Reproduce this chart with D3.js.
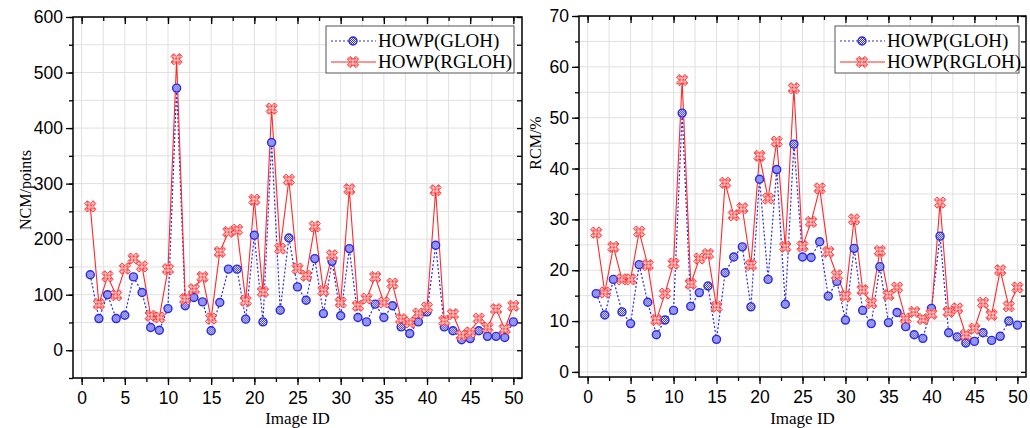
<!DOCTYPE html>
<html>
<head>
<meta charset="utf-8">
<style>
  body { margin: 0; background: #fff; }
  svg { display: block; font-family: "Liberation Serif", "Times New Roman", serif; }
  .grid line { stroke: #e0e0e0; stroke-width: 1; }
  .axis path, .axis line { stroke: #000; stroke-width: 1.3; }
  .axis text { font-size: 17.5px; fill: #000; }
  .frame { fill: none; stroke: #000; stroke-width: 1.5; }
  .title { font-size: 16px; fill: #000; }
  .legend text { font-size: 19px; fill: #000; }
</style>
</head>
<body>
<script src="https://cdn.jsdelivr.net/npm/d3@7/dist/d3.min.js"></script>
<script>
// image ids 1..50
var imageIds = d3.range(1, 51);
var xTicks = [0, 5, 10, 15, 20, 25, 30, 35, 40, 45, 50];
var seriesNames = ["HOWP(GLOH)", "HOWP(RGLOH)"];

// NCM (points)
var glohNCM = [136,57,100,57,63,132,104,41,36,75,472,80,95,87,35,86,146,146,56,207,
  51,374,72,202,114,90,165,66,160,62,183,59,51,83,59,80,42,30,51,69,
  189,42,35,19,21,35,25,25,23,51];
var rglohNCM = [259,83,133,99,147,165,151,62,59,146,524,92,110,132,57,177,213,217,89,271,
  105,435,183,307,147,134,223,107,171,86,290,80,93,132,86,120,56,50,66,77,
  288,53,65,27,32,57,41,74,38,80];
var ncmTicks = [0, 100, 200, 300, 400, 500, 600];

// RCM (%)
var glohRCM = [15.4,11.2,18.2,11.8,9.5,21.1,13.7,7.3,10.2,12.1,50.9,12.9,15.6,16.9,6.4,19.5,22.6,24.6,12.8,37.9,
  18.2,39.8,13.3,44.8,22.6,22.5,25.6,14.9,17.8,10.2,24.3,12.1,9.5,20.7,9.7,11.7,8.9,7.3,6.6,12.5,
  26.7,7.7,6.9,5.7,6.0,7.7,6.2,7.0,10.0,9.2];
var rglohRCM = [27.4,15.6,24.6,18.2,18.2,27.6,21.0,10.2,15.4,21.3,57.4,17.3,22.3,23.2,12.8,37.2,30.8,32.2,21.0,42.5,
  34.1,45.3,24.6,55.8,24.7,29.5,36.1,23.6,19.0,14.9,30.0,16.1,13.5,23.8,15.1,16.6,10.5,11.8,10.4,11.4,
  33.3,11.8,12.5,7.3,8.5,13.6,11.2,20.0,12.9,16.6];
var rcmTicks = [0, 10, 20, 30, 40, 50, 60, 70];

var blue = "#2a2ae6", red = "#ff2a2a";

var svg = d3.select("body").append("svg")
    .attr("width", 1030)
    .attr("height", 428);

// checkered fill patterns for the markers
var defs = svg.append("defs");
[["chkBlue", blue], ["chkRed", red]].forEach(function(p) {
  var pat = defs.append("pattern")
      .attr("id", p[0])
      .attr("width", 2).attr("height", 2)
      .attr("patternUnits", "userSpaceOnUse");
  pat.append("rect").attr("width", 2).attr("height", 2).attr("fill", "#fff");
  pat.append("rect").attr("width", 1).attr("height", 1).attr("fill", p[1]);
  pat.append("rect").attr("x", 1).attr("y", 1).attr("width", 1).attr("height", 1).attr("fill", p[1]);
});

var crossPath = d3.symbol().type(d3.symbolCross).size(80)();

function blueMarker(sel) {
  sel.append("circle").attr("r", 4)
    .attr("fill", "url(#chkBlue)")
    .attr("stroke", blue).attr("stroke-width", 1.4);
}
function redMarker(sel) {
  sel.append("path").attr("d", crossPath)
    .attr("transform", "rotate(45)")
    .attr("fill", "url(#chkRed)")
    .attr("stroke", red).attr("stroke-width", 0.8);
}

function drawPanel(o) {
  var x = d3.scaleLinear().domain([-1, 51]).range([o.left, o.right]);
  var y = d3.scaleLinear().domain(o.yDomain).range([o.bottom, o.top]);

  var minorX = d3.range(0, 51, 2.5);
  var minorY = d3.range(o.yDomain[0] < 0 ? -o.yStep / 2 : 0, o.yDomain[1] + 0.001, o.yStep / 2)
    .filter(function(v) { return v >= o.yDomain[0]; });

  // grid
  var grid = svg.append("g").attr("class", "grid");
  grid.selectAll(".gx").data(minorX).enter().append("line")
    .attr("x1", function(d) { return x(d); }).attr("x2", function(d) { return x(d); })
    .attr("y1", o.top).attr("y2", o.bottom);
  grid.selectAll(".gy").data(minorY).enter().append("line")
    .attr("y1", function(d) { return y(d); }).attr("y2", function(d) { return y(d); })
    .attr("x1", o.left).attr("x2", o.right);

  // bottom axis
  svg.append("g").attr("class", "axis")
    .attr("transform", "translate(0," + o.bottom + ")")
    .call(d3.axisBottom(x).tickValues(minorX).tickSize(4).tickFormat(""))
    .call(function(g) { g.select(".domain").remove(); });
  svg.append("g").attr("class", "axis")
    .attr("transform", "translate(0," + o.bottom + ")")
    .call(d3.axisBottom(x).tickValues(xTicks).tickSize(7).tickPadding(7).tickFormat(d3.format("d")))
    .call(function(g) { g.select(".domain").remove(); });
  // top ticks inward
  svg.append("g").attr("class", "axis")
    .attr("transform", "translate(0," + o.top + ")")
    .call(d3.axisBottom(x).tickValues(minorX).tickSize(4).tickFormat(""))
    .call(function(g) { g.select(".domain").remove(); });
  svg.append("g").attr("class", "axis")
    .attr("transform", "translate(0," + o.top + ")")
    .call(d3.axisBottom(x).tickValues(xTicks).tickSize(7).tickFormat(""))
    .call(function(g) { g.select(".domain").remove(); });

  // left axis
  svg.append("g").attr("class", "axis")
    .attr("transform", "translate(" + o.left + ",0)")
    .call(d3.axisLeft(y).tickValues(minorY).tickSize(4).tickFormat(""))
    .call(function(g) { g.select(".domain").remove(); });
  svg.append("g").attr("class", "axis")
    .attr("transform", "translate(" + o.left + ",0)")
    .call(d3.axisLeft(y).tickValues(o.yTicks).tickSize(7).tickPadding(3).tickFormat(d3.format("d")))
    .call(function(g) { g.select(".domain").remove(); });
  // right ticks inward
  svg.append("g").attr("class", "axis")
    .attr("transform", "translate(" + o.right + ",0)")
    .call(d3.axisRight(y).tickValues(minorY).tickSize(-5).tickFormat(""))
    .call(function(g) { g.select(".domain").remove(); });

  svg.append("rect").attr("class", "frame")
    .attr("x", o.left).attr("y", o.top)
    .attr("width", o.right - o.left).attr("height", o.bottom - o.top);

  // lines
  var line = function(vals) {
    return d3.line()
      .x(function(d, i) { return x(imageIds[i]); })
      .y(function(d) { return y(d); })(vals);
  };
  svg.append("path").attr("d", line(o.blueVals))
    .attr("fill", "none").attr("stroke", blue).attr("stroke-width", 1.2)
    .attr("stroke-dasharray", "2,2");
  svg.append("path").attr("d", line(o.redVals))
    .attr("fill", "none").attr("stroke", red).attr("stroke-width", 1.1);

  svg.append("g").selectAll("g").data(o.blueVals).enter().append("g")
    .attr("transform", function(d, i) { return "translate(" + x(imageIds[i]) + "," + y(d) + ")"; })
    .call(blueMarker);
  svg.append("g").selectAll("g").data(o.redVals).enter().append("g")
    .attr("transform", function(d, i) { return "translate(" + x(imageIds[i]) + "," + y(d) + ")"; })
    .call(redMarker);

  // axis titles
  svg.append("text").attr("class", "title")
    .attr("x", (o.left + o.right) / 2).attr("y", 424)
    .attr("text-anchor", "middle").style("font-size", "17px")
    .text("Image ID");
  svg.append("text").attr("class", "title")
    .attr("transform", "translate(" + o.yLabelX + "," + o.yLabelY + ") rotate(-90)")
    .attr("text-anchor", "middle")
    .text(o.yLabel);

  // legend
  var lg = svg.append("g").attr("class", "legend")
    .attr("transform", "translate(" + o.legend[0] + "," + o.legend[1] + ")");
  lg.append("rect").attr("width", o.legend[2]).attr("height", 47)
    .attr("fill", "#fff").attr("stroke", "#555").attr("stroke-width", 1);
  var row1 = lg.append("g").attr("transform", "translate(0,15)");
  row1.append("line").attr("x1", 5).attr("x2", 50)
    .attr("stroke", blue).attr("stroke-width", 1.2).attr("stroke-dasharray", "2,2");
  row1.append("g").attr("transform", "translate(27,0)").call(blueMarker);
  row1.append("text").attr("x", 52).attr("y", 6).text(seriesNames[0]);
  var row2 = lg.append("g").attr("transform", "translate(0,36)");
  row2.append("line").attr("x1", 5).attr("x2", 50)
    .attr("stroke", red).attr("stroke-width", 1.2);
  row2.append("g").attr("transform", "translate(27,0)").call(redMarker);
  row2.append("text").attr("x", 52).attr("y", 6).text(seriesNames[1]);
}

drawPanel({
  left: 73, right: 522, top: 17, bottom: 378,
  yDomain: [-50, 600], yStep: 100, yTicks: ncmTicks,
  blueVals: glohNCM, redVals: rglohNCM,
  yLabel: "NCM/points", yLabelX: 31, yLabelY: 190,
  legend: [326, 26, 188]
});

drawPanel({
  left: 579, right: 1026, top: 16, bottom: 377,
  yDomain: [-1, 70], yStep: 10, yTicks: rcmTicks,
  blueVals: glohRCM, redVals: rglohRCM,
  yLabel: "RCM/%", yLabelX: 541, yLabelY: 143,
  legend: [835, 26, 184]
});
</script>
</body>
</html>
